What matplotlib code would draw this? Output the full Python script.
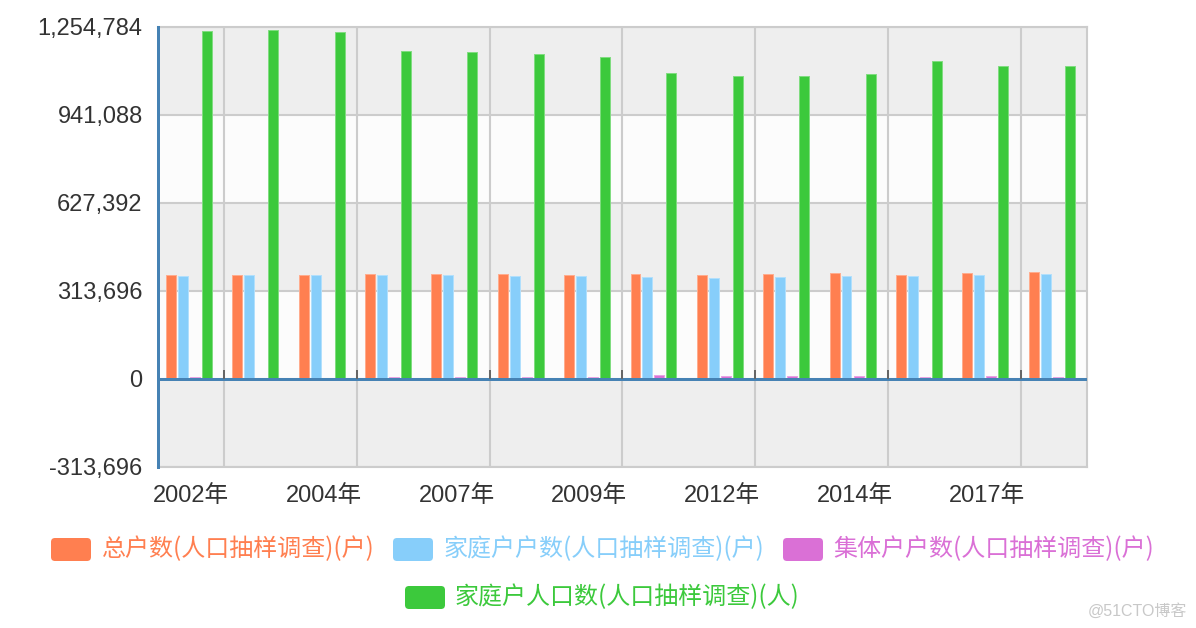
import matplotlib
matplotlib.use('Agg')
import matplotlib.pyplot as plt
from matplotlib.patches import FancyBboxPatch
from matplotlib.transforms import IdentityTransform
import numpy as np

# ---------------- data ----------------
years = ['2002年', '2003年', '2004年', '2006年', '2007年', '2008年', '2009年',
         '2011年', '2012年', '2013年', '2014年', '2016年', '2017年', '2018年']
total_households = [369700, 370700, 370700, 374300, 374300, 372100, 370700,
                    372100, 368600, 373200, 375700, 370700, 375700, 379300]
family_households = [366000, 368600, 368600, 369700, 368600, 366000, 365000,
                     361400, 357900, 363600, 367200, 366000, 368600, 372100]
collective_households = [5000, 3600, 3600, 7000, 7000, 7000, 7000,
                         12000, 10700, 10700, 10700, 7000, 9600, 7000]
family_population = [1239400, 1243000, 1237000, 1169200, 1164600, 1156300, 1145700,
                     1089700, 1079000, 1079000, 1085100, 1132500, 1114700, 1114700]
series_names = ['总户数(人口抽样调查)(户)', '家庭户户数(人口抽样调查)(户)',
                '集体户户数(人口抽样调查)(户)', '家庭户人口数(人口抽样调查)(人)']
y_ticks = [-313696, 0, 313696, 627392, 941088, 1254784]
y_tick_labels = ['-313,696', '0', '313,696', '627,392', '941,088', '1,254,784']

series = [total_households, family_households, collective_households, family_population]
colors = ['#ff7f50', '#87cefa', '#da70d6', '#3cc93c']

# ---------------- figure ----------------
W, H = 1196, 628
fig = plt.figure(figsize=(W / 100, H / 100), dpi=100)
PX = 0.72  # points per pixel

left_px, right_px, top_px, bot_px = 158, 1087, 26.7, 466.7
ax = fig.add_axes([left_px / W, 1 - bot_px / H, (right_px - left_px) / W, (bot_px - top_px) / H])

n = len(years)
x = np.arange(n)
ax.set_xlim(-0.5, n - 0.5)
ax.set_ylim(y_ticks[0], y_ticks[-1])

# background bands
band_cols = ['#eeeeee', '#fcfcfc']
for i in range(len(y_ticks) - 1):
    ax.axhspan(y_ticks[i], y_ticks[i + 1], color=band_cols[i % 2], zorder=0, lw=0)

# grid lines
for yt in y_ticks:
    ax.axhline(yt, color='#cccccc', lw=1.5 * PX * 1.4, zorder=1)
boundaries = np.arange(0.5, n - 0.5, 2)
for b in boundaries:
    ax.axvline(b, color='#cccccc', lw=1.5 * PX * 1.4, zorder=1)

# bars
offsets = [-0.304, -0.124, 0.057, 0.238]
bw = 0.15
for k, (vals, c) in enumerate(zip(series, colors)):
    rgb = np.array(matplotlib.colors.to_rgb(c))
    edge = tuple(rgb + (1 - rgb) * 0.35)
    ax.bar(x + offsets[k], vals, width=bw, color=c, edgecolor=edge,
           linewidth=1.0 * PX, zorder=3)

# zero line (axis) and small ticks
ax.axhline(0, color='#4682b4', lw=3 * PX, zorder=4)
yr = y_ticks[-1] - y_ticks[0]
zero_frac = (0 - y_ticks[0]) / yr
tick_frac = 9 / (bot_px - top_px)
ax.vlines(boundaries, zero_frac, zero_frac + tick_frac, transform=ax.get_xaxis_transform(),
          color='#666666', lw=2 * PX, zorder=4)

# spines
for s in ['top', 'right', 'bottom']:
    ax.spines[s].set_color('#cccccc')
    ax.spines[s].set_linewidth(1.5 * PX * 1.4)
ax.spines['left'].set_color('#4682b4')
ax.spines['left'].set_linewidth(3 * PX)
ax.spines['left'].set_zorder(5)

# ticks
ax.set_yticks(y_ticks)
ax.set_yticklabels(y_tick_labels, fontsize=17, color='#333333', family=['Liberation Sans'])
ax.tick_params(axis='y', length=0, pad=11)
ax.set_xticks(x[::2])
ax.set_xticklabels(years[::2], fontsize=17, color='#333333',
                   family=['Liberation Sans', 'Noto Sans CJK SC'])
ax.tick_params(axis='x', length=0, pad=13.5)

# ---------------- legend ----------------
legend_items = [
    (51, 538, 102, 549.5),
    (393, 538, 444, 549.5),
    (783, 538, 833, 549.5),
    (405, 586, 455, 597.5),
]
for (ix, iy, tx, ty), name, c in zip(legend_items, series_names, colors):
    patch = FancyBboxPatch((ix, H - iy - 23), 40, 23,
                           boxstyle='round,pad=0,rounding_size=4',
                           transform=IdentityTransform(), facecolor=c, edgecolor='none')
    fig.patches.append(patch)
    fig.text(tx / W, 1 - ty / H, name, color=c, fontsize=17.3, ha='left', va='center',
             family=['Noto Sans CJK SC', 'DejaVu Sans'])

# watermark
fig.text(1187 / W, 1 - 611 / H, '@51CTO博客', color='#c8c8c8', fontsize=11.5,
         ha='right', va='center', family=['Liberation Sans', 'Noto Sans CJK SC'])

fig.savefig('out.png', dpi=100)
